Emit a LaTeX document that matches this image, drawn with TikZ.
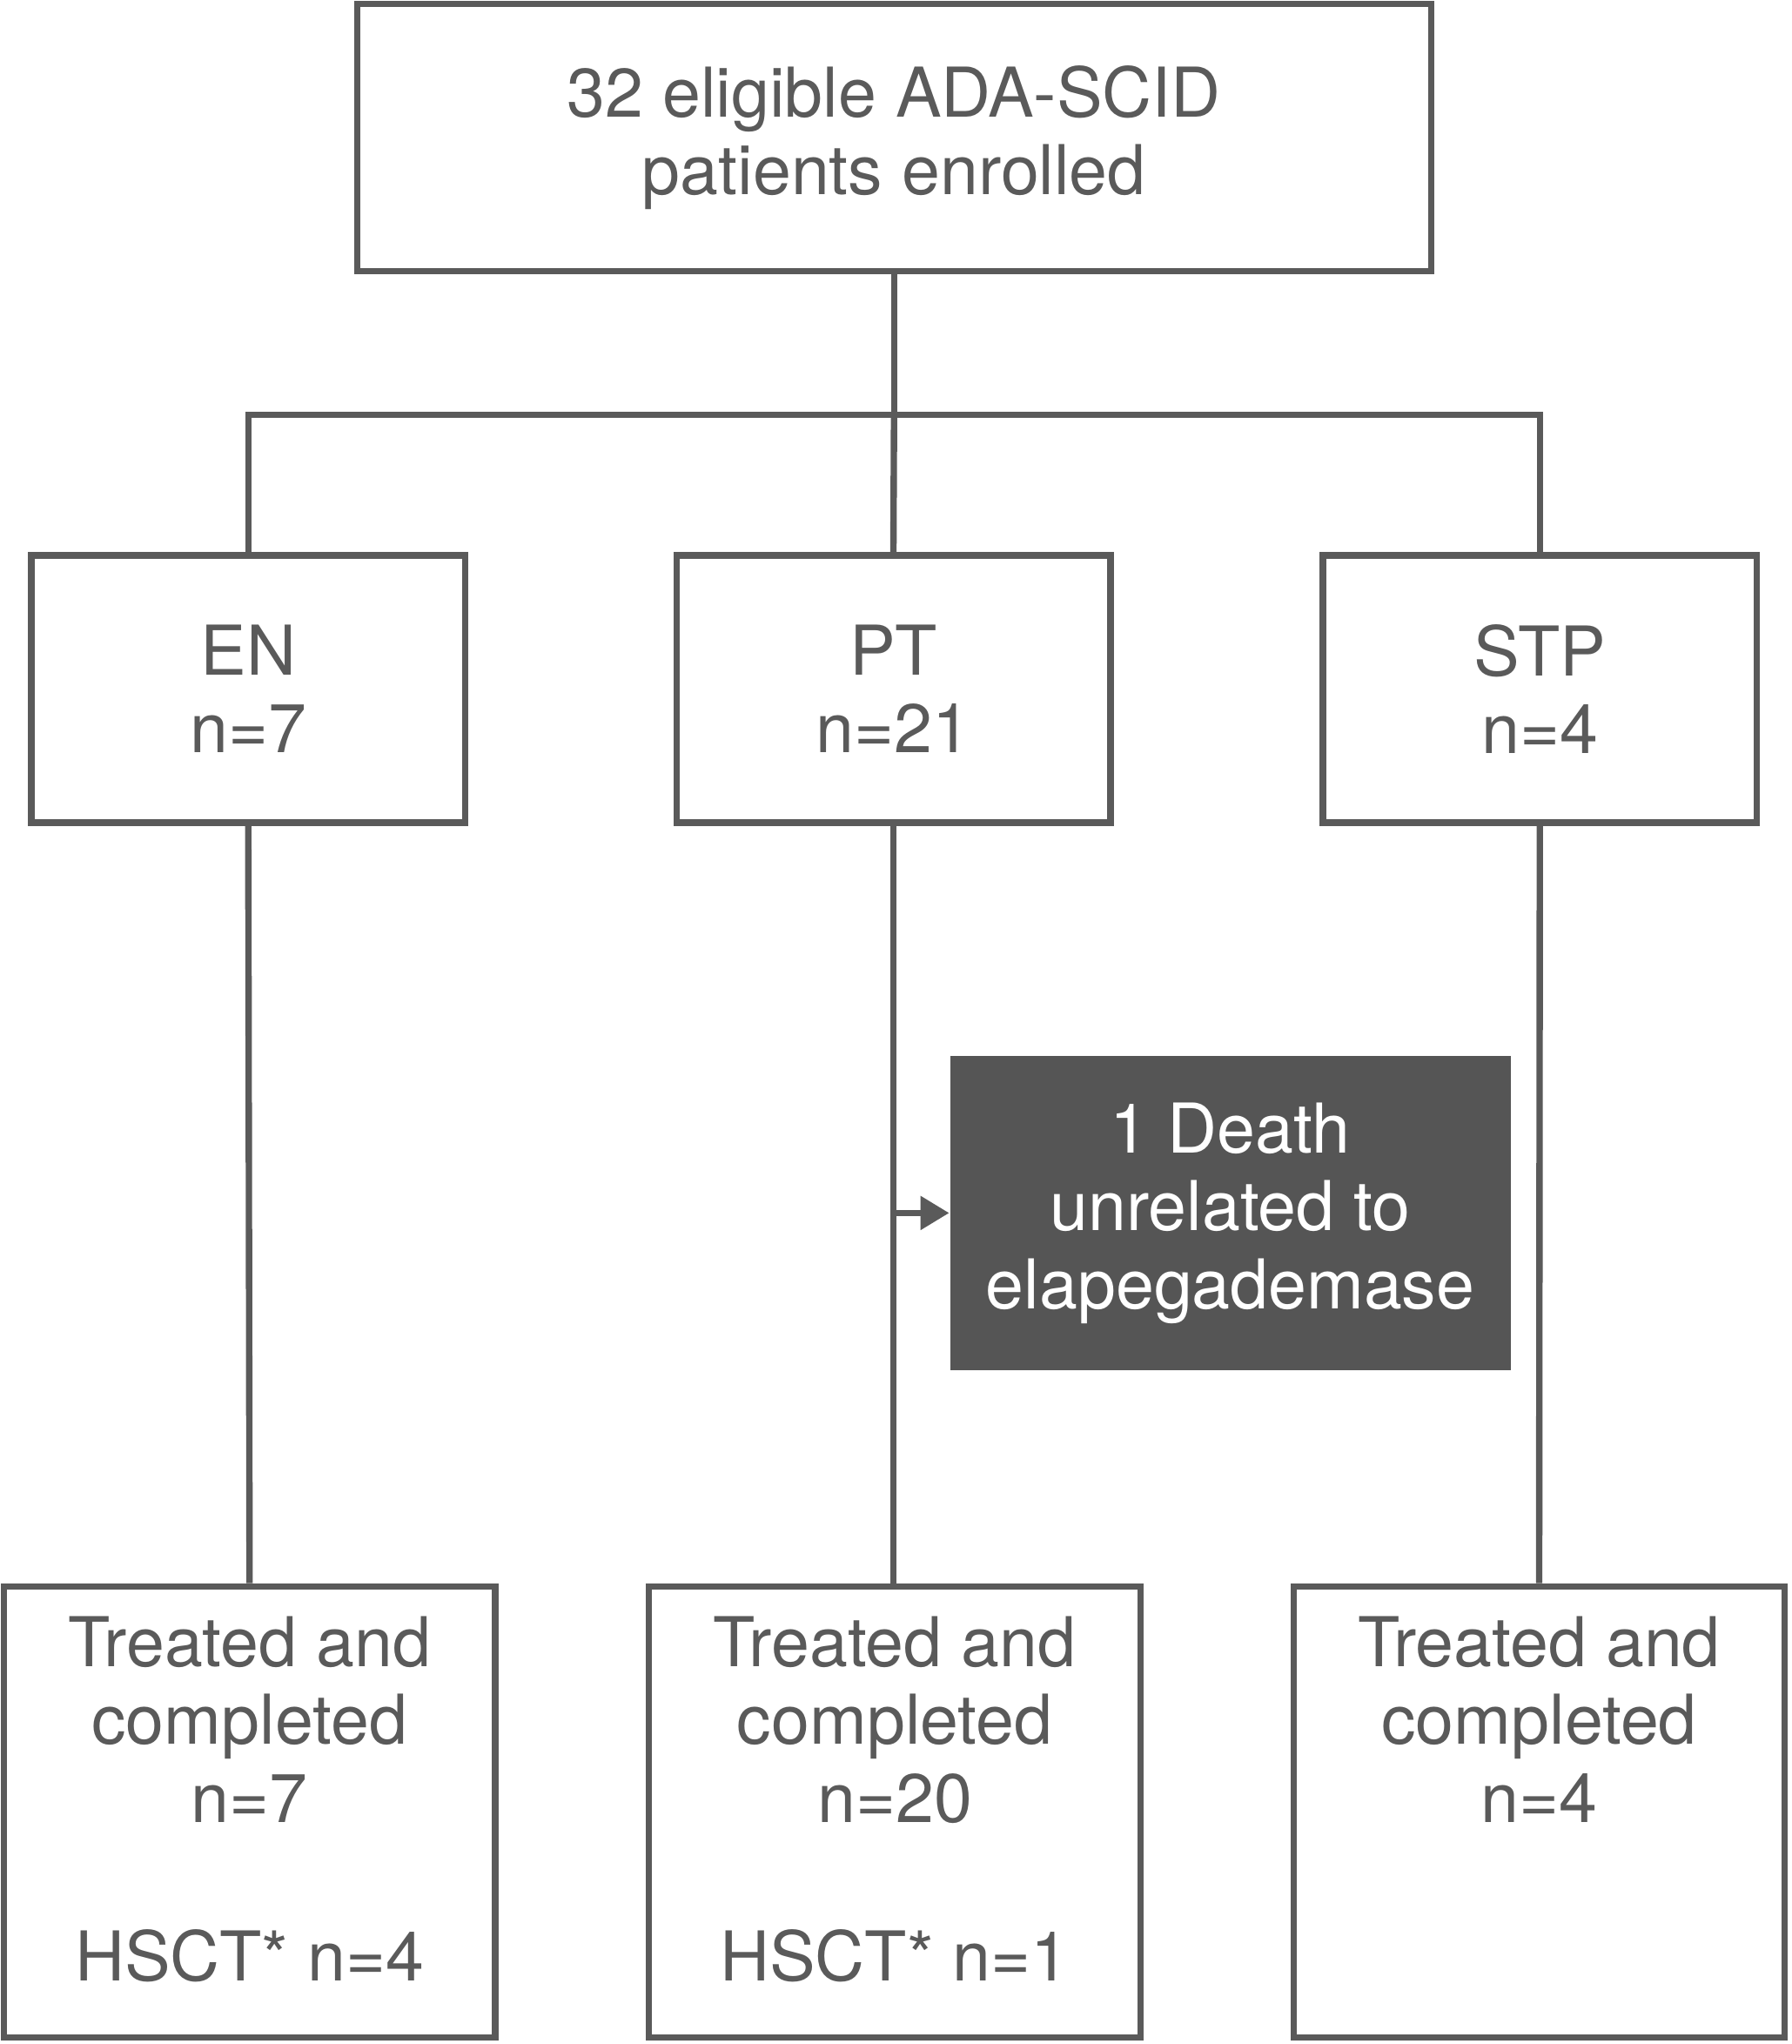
\documentclass[tikz,border=0pt]{standalone}
\usepackage{fontspec}
\setmainfont{TeX Gyre Heros}
\usetikzlibrary{positioning,arrows.meta}
\definecolor{LINE_COLOR}{HTML}{5A5A5A}
\definecolor{DEATH_COLOR}{HTML}{555555}
\tikzset{
 box/.style = {rectangle, draw=LINE_COLOR, line width=1.4pt, text=LINE_COLOR, align=center, font=\fontsize{15}{17}\selectfont},
 group/.style = {box, minimum width=3.33cm, minimum height=2.05cm},
 result/.style = {box, minimum width=3.77cm, minimum height=3.46cm, inner sep=0pt},
 death/.style = {rectangle, fill=DEATH_COLOR, text=white, align=center, minimum width=4.3cm, minimum height=2.41cm, font=\fontsize{15}{17}\selectfont},
 link/.style = {draw=LINE_COLOR, line width=1.4pt}
}
\begin{document}
\begin{tikzpicture}
  \useasboundingbox (0,0) rectangle (13.75,-15.68);

  %%%%%%%%%%%%%%%%%%%%%%%%%%%%%%%%%%%%%%%%%%%%%%%%%
  % BOXES
  %%%%%%%%%%%%%%%%%%%%%%%%%%%%%%%%%%%%%%%%%%%%%%%%%
  \node[box, minimum width=8.24cm, minimum height=2.05cm] (ALL) at (6.86,-1.055) {32 eligible ADA-SCID\\patients enrolled};
  \node[group] (EN)  at (1.905,-5.285) {EN\\n=7};
  \node[group] (PT)  at (6.855,-5.285) {PT\\n=21};
  \node[group] (STP) at (11.815,-5.285) {STP\\n=4};
  \node[death] (DEATH) at (9.44,-9.305) {1 Death\\unrelated to\\elapegademase};
  \node[result] (EN_END)  at (1.915,-13.9) {\parbox[c][3.0cm][t]{3.6cm}{\centering Treated and\\completed\\n=7\\[0.62cm]HSCT* n=4}};
  \node[result] (PT_END)  at (6.865,-13.9) {\parbox[c][3.0cm][t]{3.6cm}{\centering Treated and\\completed\\n=20\\[0.62cm]HSCT* n=1}};
  \node[result] (STP_END) at (11.81,-13.9) {\parbox[c][3.0cm][t]{3.6cm}{\centering Treated and\\completed\\n=4}};

  %%%%%%%%%%%%%%%%%%%%%%%%%%%%%%%%%%%%%%%%%%%%%%%%%
  % CONNECTORS
  %%%%%%%%%%%%%%%%%%%%%%%%%%%%%%%%%%%%%%%%%%%%%%%%%
  \coordinate (SPLIT) at (ALL.south |- 0,-3.18);
  \path[link] (ALL.south) -- (SPLIT);
  \path[link] (SPLIT) -| (EN.north);
  \path[link] (SPLIT) -| (STP.north);
  \path[link] (SPLIT) -- (PT.north);
  \path[link] (EN.south) -- (EN_END.north);
  \path[link] (PT.south) -- (PT.south |- PT_END.north);
  \path[link] (STP.south) -- (STP_END.north);
  \coordinate (DJ) at (PT.south |- DEATH.west);
  \path[link, -{Triangle[length=0.22cm, width=0.25cm]}] (DJ) -- (DEATH.west);
\end{tikzpicture}
\end{document}
